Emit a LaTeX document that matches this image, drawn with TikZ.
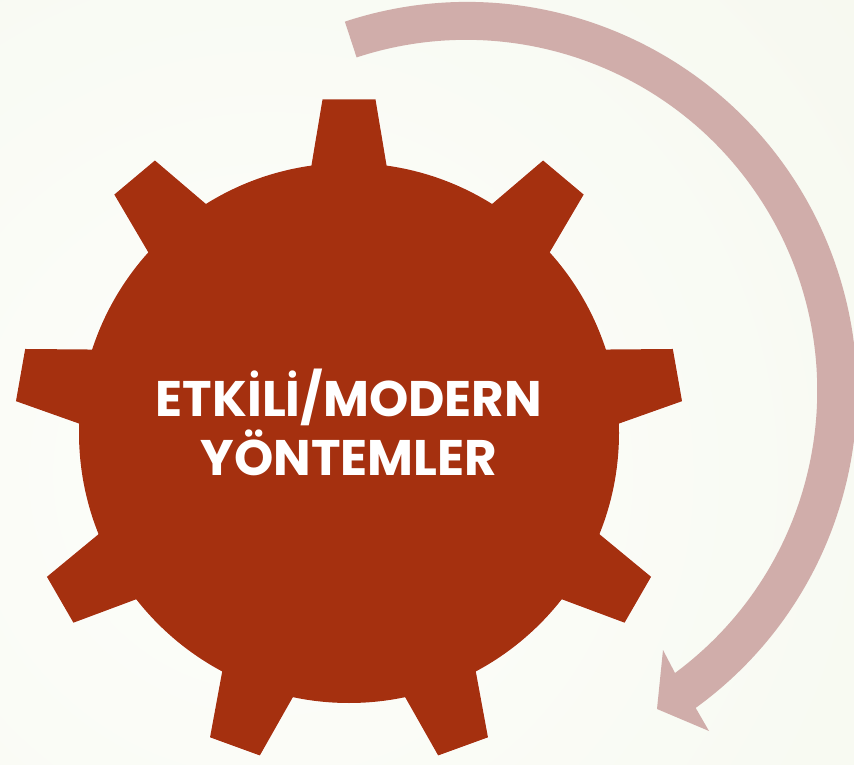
\documentclass[tikz,border=0pt]{standalone}
\usepackage{fontspec}
\setmainfont{Poppins}
\definecolor{gearred}{HTML}{A5300F}
\definecolor{arrowpink}{HTML}{D0ADAA}
\definecolor{bgin}{HTML}{FDFEFB}
\definecolor{bgout}{HTML}{F1F4E6}
\tikzset{
  geartext/.style={text=white,font=\fontsize{50}{59}\selectfont\bfseries,align=center,inner sep=0pt}
}
\begin{document}
\begin{tikzpicture}[x=1pt,y=1pt]
\useasboundingbox (0,0) rectangle (854,764);
\begin{scope}
  \clip (0,0) rectangle (854,764);
  \shade[inner color=bgin,outer color=bgout] (270,290) circle (1450pt);
  % curved arrow
  \fill[arrowpink] (467,372) ++(108.25:390pt) arc[start angle=108.25,end angle=-54.1,radius=390pt]
     -- (709,33) -- (657,55) -- (663,114) -- (675,91)
     arc[start angle=-53.5,end angle=108.2,radius=351pt] -- cycle;
\end{scope}
% gear: white halo, then body
\begin{scope}[shift={(349,331)}]
  \foreach \a in {0,40,...,320}{
    \draw[white,line width=1.2pt] [rotate=\a] (-26.5,333.5) -- (26.5,333.5) -- (38,265) -- (-38,265) -- cycle;
  }
  \draw[white,line width=1.2pt] (0,0) circle (270pt);
  \foreach \a in {0,40,...,320}{
    \fill[gearred] [rotate=\a] (-26.5,333.5) -- (26.5,333.5) -- (38,265) -- (0,0) -- (-38,265) -- cycle;
  }
  \fill[gearred] (0,0) circle (270pt);
\end{scope}
\node[geartext] (label) at (349,342) {ETKİLİ/MODERN\\YÖNTEMLER};
\end{tikzpicture}
\end{document}
